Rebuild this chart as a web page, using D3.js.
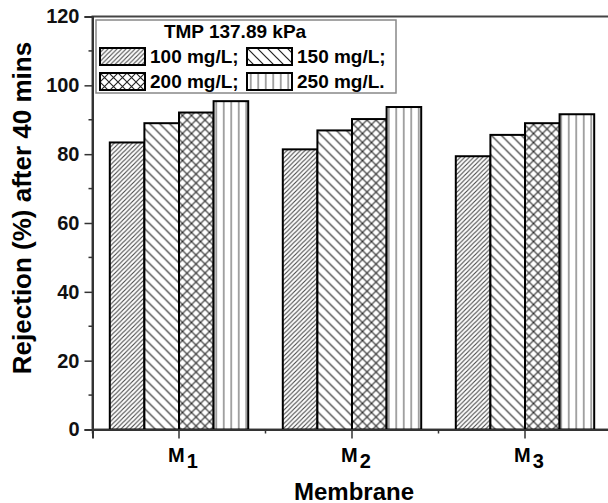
<!DOCTYPE html>
<html>
<head>
<meta charset="utf-8">
<script src="https://cdn.jsdelivr.net/npm/d3@7"></script>
<style>
  body { margin: 0; background: #fff; }
  svg { font-family: "Liberation Sans", Arial, sans-serif; font-weight: bold; }
</style>
</head>
<body>
<svg id="chart"></svg>
<script>
// data
var membranes = ["M1", "M2", "M3"];
var series = ["100 mg/L;", "150 mg/L;", "200 mg/L;", "250 mg/L."];
var rej100 = [83.4, 81.4, 79.4];
var rej150 = [89.0, 86.9, 85.6];
var rej200 = [92.1, 90.2, 89.0];
var rej250 = [95.4, 93.7, 91.6];
var yTicks = [0, 20, 40, 60, 80, 100, 120];

var values = [rej100, rej150, rej200, rej250];
var patterns = ["p100", "p150", "p200", "p250"];

var W = 608, H = 503;
var margin = { top: 16.5, left: 92.5, right: -3.5, bottom: 73.5 };
var w = W - margin.left - margin.right,
    h = H - margin.top - margin.bottom;

var root = d3.select("#chart").attr("width", W).attr("height", H)
  .style("overflow", "hidden");

// hatch patterns
var defs = root.append("defs");
function hatch(id, size, lines, color, sw) {
  var p = defs.append("pattern").attr("id", id)
    .attr("patternUnits", "userSpaceOnUse")
    .attr("width", size).attr("height", size);
  p.append("rect").attr("width", size).attr("height", size).attr("fill", "#fff");
  lines.forEach(function (l) {
    p.append("path").attr("d", l).attr("stroke", color)
      .attr("stroke-width", sw).attr("fill", "none");
  });
}
hatch("p100", 4.5, ["M-1,1 L1,-1 M0,4.5 L4.5,0 M3.5,5.5 L5.5,3.5"], "#444", 1.1);
hatch("p150", 10, ["M-1,-1 L11,11 M-1,9 L1,11 M9,-1 L11,1"], "#222", 1.2);
hatch("p200", 9, ["M0,0 L9,9 M9,0 L0,9"], "#222", 1.1);
hatch("p250", 7.5, ["M3.75,0 L3.75,7.5"], "#777", 1.3);

var svg = root.append("g")
  .attr("transform", `translate(${margin.left},${margin.top})`);

var x = d3.scaleBand().domain(membranes).range([0, w])
  .paddingInner(0.2).paddingOuter(0.1);
var xs = d3.scaleBand().domain(series).range([0, x.bandwidth()]);
var y = d3.scaleLinear().domain([0, 120]).range([h, 0]);

// frame (top + right run off the picture)
svg.append("rect").attr("width", w).attr("height", h)
  .attr("fill", "none").attr("stroke", "#444").attr("stroke-width", 2);

// bars
series.forEach(function (s, i) {
  svg.append("g").selectAll("rect")
    .data(membranes)
    .join("rect")
    .attr("x", function (m) { return x(m) + xs(s); })
    .attr("y", function (m, j) { return y(values[i][j]); })
    .attr("width", xs.bandwidth())
    .attr("height", function (m, j) { return h - y(values[i][j]); })
    .attr("fill", "url(#" + patterns[i] + ")")
    .attr("stroke", "#000")
    .attr("stroke-width", 2);
});

// y axis
var yAxis = svg.append("g")
  .call(d3.axisLeft(y).tickValues(yTicks).tickSize(8).tickPadding(5));
yAxis.selectAll("text").style("font-size", "20px").attr("fill", "#111")
  .style("font-family", "Liberation Sans, Arial, sans-serif").style("font-weight", "bold");
yAxis.select(".domain").attr("stroke", "#333").attr("stroke-width", 2);
yAxis.selectAll(".tick line").attr("stroke", "#333").attr("stroke-width", 1.5);
svg.append("g").selectAll("line")
  .data(d3.range(10, 120, 20))
  .join("line")
  .attr("x1", -4).attr("x2", 0)
  .attr("y1", function (d) { return y(d); }).attr("y2", function (d) { return y(d); })
  .attr("stroke", "#333").attr("stroke-width", 1.5);

// x axis
var xAxis = svg.append("g").attr("transform", `translate(0,${h})`)
  .call(d3.axisBottom(x).tickSize(9).tickFormat(""));
xAxis.select(".domain").attr("stroke", "#333").attr("stroke-width", 2);
xAxis.selectAll(".tick line").attr("stroke", "#333").attr("stroke-width", 1.5);
svg.append("g").selectAll("line")
  .data(membranes)
  .join("line")
  .attr("x1", function (m) { return x(m) + x.bandwidth() / 2 - x.step() / 2; })
  .attr("x2", function (m) { return x(m) + x.bandwidth() / 2 - x.step() / 2; })
  .attr("y1", h).attr("y2", h + 4)
  .attr("stroke", "#333").attr("stroke-width", 1.5);

var xl = svg.append("g").selectAll("text")
  .data(membranes)
  .join("text")
  .attr("x", function (m) { return x(m) + x.bandwidth() / 2 + 4; })
  .attr("y", h + 32)
  .attr("text-anchor", "middle")
  .style("font-size", "20px");
xl.append("tspan").text(function (m) { return m.charAt(0); });
xl.append("tspan").attr("dy", 6).attr("dx", 2).text(function (m) { return m.slice(1); });

svg.append("text")
  .attr("x", x("M2") + x.bandwidth() / 2 + 2)
  .attr("y", h + 70)
  .attr("text-anchor", "middle")
  .style("font-size", "24px")
  .text("Membrane");

svg.append("text")
  .attr("transform", "rotate(-90)")
  .attr("x", -(208 - margin.top))
  .attr("y", -margin.left + 31)
  .attr("text-anchor", "middle")
  .style("font-size", "26px")
  .text("Rejection (%) after 40 mins");

// legend
var lg = root.append("g").attr("transform", "translate(96,20)");
lg.append("rect").attr("width", 300).attr("height", 73)
  .attr("fill", "#fff").attr("stroke", "#888").attr("stroke-width", 1.5);
lg.append("text").attr("x", 139).attr("y", 18).attr("text-anchor", "middle")
  .style("font-size", "19px").text("TMP 137.89 kPa");
var items = lg.selectAll("g.item")
  .data(series)
  .join("g")
  .attr("class", "item")
  .attr("transform", function (d, i) {
    return `translate(${4 + (i % 2) * 147},${28 + Math.floor(i / 2) * 25})`;
  });
items.append("rect").attr("width", 45).attr("height", 17)
  .attr("fill", function (d, i) { return "url(#" + patterns[i] + ")"; })
  .attr("stroke", "#000").attr("stroke-width", 2);
items.append("text").attr("x", 50).attr("y", 15)
  .style("font-size", "19px").text(function (d) { return d; });
</script>
</body>
</html>
